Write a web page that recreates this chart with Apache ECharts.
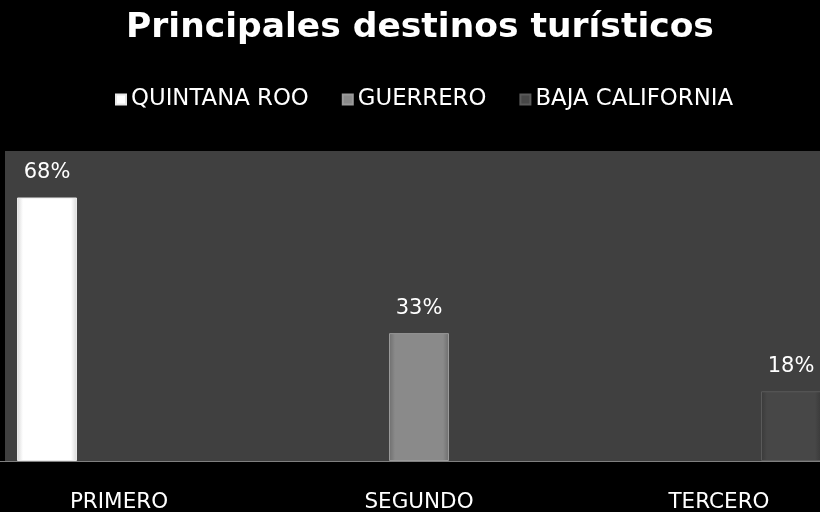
<!DOCTYPE html>
<html><head><meta charset="utf-8">
<script src="https://cdn.jsdelivr.net/npm/echarts@6/dist/echarts.min.js"></script>
<style>html,body{margin:0;padding:0;background:#000;}#c{width:820px;height:512px;}</style>
</head><body><div id="c"></div>
<script>
const categories = ['PRIMERO', 'SEGUNDO', 'TERCERO'];
const seriesNames = ['QUINTANA ROO', 'GUERRERO', 'BAJA CALIFORNIA'];
const quintanaRoo = [68, null, null];
const guerrero = [null, 33, null];
const bajaCalifornia = [null, null, 18];
const titleText = 'Principales destinos turísticos';

const FONT = '"DejaVu Sans", sans-serif';
function grad(edge, mid) {
  return new echarts.graphic.LinearGradient(0, 0, 1, 0, [
    {offset: 0, color: edge}, {offset: 0.1, color: mid},
    {offset: 0.9, color: mid}, {offset: 1, color: edge}
  ]);
}
const styles = [
  {color: grad('#d8d8d8', '#ffffff'), borderColor: '#e8e8e8'},
  {color: grad('#6e6e6e', '#8a8a8a'), borderColor: '#9a9a9a'},
  {color: grad('#3a3a3a', '#474747'), borderColor: '#5a5a5a'}
];
const dataSets = [quintanaRoo, guerrero, bajaCalifornia];

const chart = echarts.init(document.getElementById('c'));
chart.setOption({
  backgroundColor: '#000000',
  animation: false,
  title: {
    text: titleText, left: 121, top: 6,
    textStyle: {color: '#ffffff', fontSize: 34.5, fontWeight: 'bold', fontFamily: FONT}
  },
  legend: {
    data: seriesNames, top: 83, left: 110, itemGap: 33,
    icon: 'rect', itemWidth: 10, itemHeight: 10,
    textStyle: {color: '#ffffff', fontSize: 22.8, fontFamily: FONT}
  },
  grid: {
    left: -31, right: -49, top: 151, bottom: 51,
    outerBoundsMode: 'none',
    show: true, backgroundColor: '#404040', borderWidth: 0, containLabel: false
  },
  xAxis: {
    type: 'category', data: categories,
    axisLine: {show: true, lineStyle: {color: '#7f7f7f', width: 1}},
    axisTick: {show: false},
    axisLabel: {color: '#ffffff', fontSize: 21.5, fontFamily: FONT, margin: 30}
  },
  yAxis: {
    type: 'value', min: 0, max: 80, show: false,
    splitLine: {show: false}
  },
  series: seriesNames.map((n, i) => ({
    name: n, type: 'bar', data: dataSets[i],
    barWidth: 60, barGap: '20%',
    itemStyle: Object.assign({borderWidth: 1}, styles[i]),
    label: {
      show: true, position: 'top', distance: 14,
      color: '#ffffff', fontSize: 21, fontFamily: FONT,
      formatter: '{c}%'
    }
  })),
  graphic: [{type: 'rect', left: 0, top: 151, shape: {width: 5, height: 310}, style: {fill: '#000'}, z: 100}]
});
</script></body></html>
